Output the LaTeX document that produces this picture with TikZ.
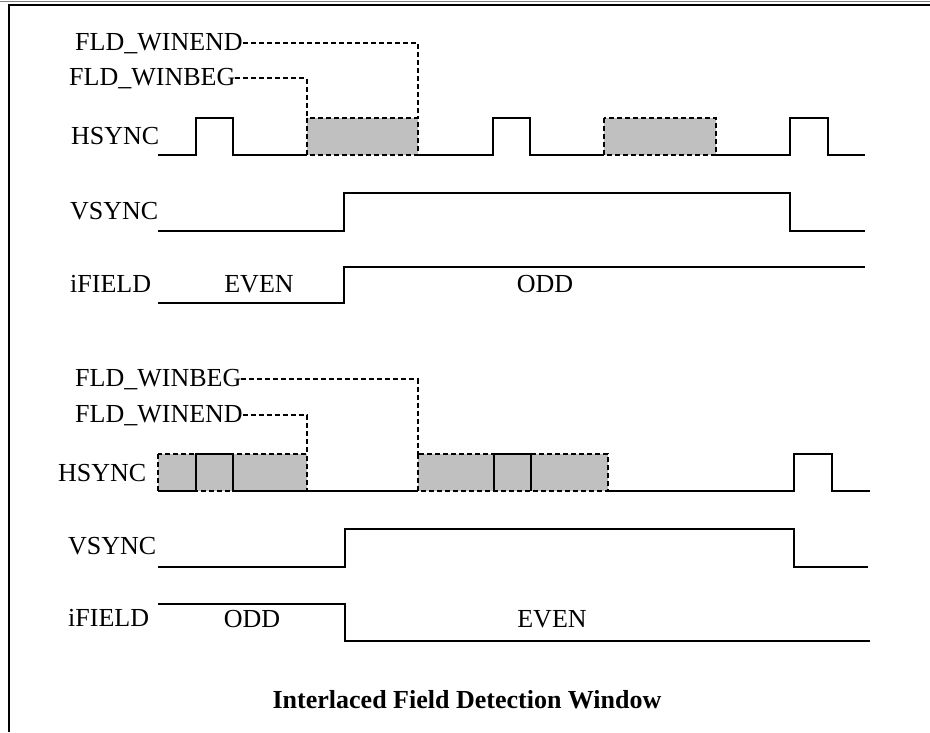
\documentclass[tikz,border=0pt]{standalone}
\usepackage{fontspec}
\setmainfont{Liberation Serif}
\definecolor{winfill}{RGB}{192,192,192}
\begin{document}
\begin{tikzpicture}[x=1pt,y=-1pt,
  wave/.style={line width=2pt, line join=miter},
  lead/.style={line width=1.5pt, dash pattern=on 5pt off 3pt},
  win/.style={fill=winfill, line width=1.5pt, dash pattern=on 5pt off 3pt},
  lbl/.style={inner sep=0pt, anchor=base west, font=\fontsize{26}{30}\selectfont},
  clbl/.style={inner sep=0pt, anchor=base, font=\fontsize{26}{30}\selectfont}]
\useasboundingbox (0,0) rectangle (930,732);
% frame
\draw[line width=1pt, gray] (0,1) -- (930,1);
\draw[line width=2pt] (8,5) -- (930,5);
\draw[line width=2pt] (9,5) -- (9,732);

% ---------- top diagram ----------
\node[lbl] (tend) at (75,50) {FLD\_WINEND};
\node[lbl] (tbeg) at (69,85) {FLD\_WINBEG};
\node[lbl] (ths) at (71,144) {HSYNC};
\node[lbl] (tvs) at (70,219) {VSYNC};
\node[lbl] (tif) at (70,292) {iFIELD};
\node[clbl] (teven) at (259,292) {EVEN};
\node[clbl] (todd) at (545,292) {ODD};

\coordinate (tw1a) at (307,118);
\coordinate (tw1b) at (418,118);
\draw[win] (307,118) rectangle (418,155);
\draw[win] (604,118) rectangle (716,155);
\draw[lead] (tbeg.east) -| (tw1a);
\draw[lead] (tend.east) -| (tw1b);

\draw[wave] (158,155) -- (196,155) -- (196,118) -- (233,118) -- (233,155) -- (307,155);
\draw[wave] (418,155) -- (493,155) -- (493,118) -- (530,118) -- (530,155) -- (604,155);
\draw[wave] (716,155) -- (790,155) -- (790,118) -- (828,118) -- (828,155) -- (865,155);

\draw[wave] (158,231) -- (344,231) -- (344,193) -- (790,193) -- (790,231) -- (865,231);
\draw[wave] (158,303) -- (344,303) -- (344,267) -- (865,267);

% ---------- bottom diagram ----------
\node[lbl] (bbeg) at (75,386) {FLD\_WINBEG};
\node[lbl] (bend) at (75,422) {FLD\_WINEND};
\node[lbl] (bhs) at (58,481) {HSYNC};
\node[lbl] (bvs) at (68,554) {VSYNC};
\node[lbl] (bif) at (68,626) {iFIELD};
\node[clbl] (bodd) at (252,627) {ODD};
\node[clbl] (beven) at (552,627) {EVEN};

\coordinate (bw1) at (307,454);
\coordinate (bw2) at (418,454);
\draw[win] (158,454) rectangle (307,491);
\draw[win] (418,454) rectangle (608,491);
\draw[lead] (bend.east) -| (bw1);
\draw[lead] (bbeg.east) -| (bw2);

\draw[wave] (158,491) -- (196,491) -- (196,454) -- (233,454) -- (233,491) -- (418,491);
\draw[wave] (494,491) -- (494,454) -- (531,454) -- (531,491);
\draw[wave] (608,491) -- (794,491) -- (794,454) -- (832,454) -- (832,491) -- (870,491);

\draw[wave] (158,567) -- (345,567) -- (345,529) -- (794,529) -- (794,567) -- (868,567);
\draw[wave] (158,604) -- (345,604) -- (345,641) -- (870,641);

% title
\node[clbl, font=\fontsize{26}{30}\selectfont\bfseries] (title) at (467,708) {Interlaced Field Detection Window};
\end{tikzpicture}
\end{document}
